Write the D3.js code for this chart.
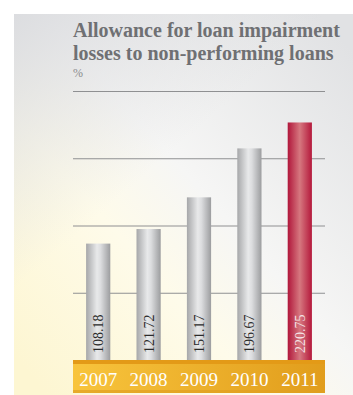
<!DOCTYPE html>
<html>
<head>
<meta charset="utf-8">
<style>
    body { margin: 0; background: #fff; }
    svg { display: block; }
    .title { font-family: "Liberation Serif", "Times New Roman", serif; font-weight: 700; font-size: 20px; fill: #6f7073; }
    .unit { font-family: "Liberation Serif", serif; font-size: 12px; fill: #8a8b8d; }
    .val { font-family: "Liberation Serif", serif; font-size: 14px; fill: #2b2b2b; }
    .year { font-family: "Liberation Serif", serif; font-size: 19px; fill: #fff; }
</style>
</head>
<body>
<svg width="353" height="395"></svg>
<script src="https://d3js.org/d3.v7.min.js"></script>
<script>
    let years = ["2007", "2008", "2009", "2010", "2011"]
    let values = [108.18, 121.72, 151.17, 196.67, 220.75]
    let gridValues = [62.5, 125, 187.5, 250]

    let svg = d3.select("svg")
    let defs = svg.append("defs")

    // background panel gradient
    let bg = defs.append("linearGradient").attr("id", "bg")
        .attr("x1", 0).attr("y1", 0.9).attr("x2", 0.9).attr("y2", 0)
    bg.append("stop").attr("offset", 0).attr("stop-color", "#fdf6d2")
    bg.append("stop").attr("offset", 0.35).attr("stop-color", "#fefbea")
    bg.append("stop").attr("offset", 0.55).attr("stop-color", "#f6f6f5")
    bg.append("stop").attr("offset", 1).attr("stop-color", "#e1e2e4")

    let topShade = defs.append("linearGradient").attr("id", "topShade")
        .attr("x1", 0).attr("y1", 0).attr("x2", 0.35).attr("y2", 0.45)
    topShade.append("stop").attr("offset", 0).attr("stop-color", "#dcdde0").attr("stop-opacity", 1)
    topShade.append("stop").attr("offset", 1).attr("stop-color", "#dcdde0").attr("stop-opacity", 0)

    let grayBar = defs.append("linearGradient").attr("id", "grayBar")
    grayBar.append("stop").attr("offset", 0).attr("stop-color", "#a6a7a9")
    grayBar.append("stop").attr("offset", 0.45).attr("stop-color", "#e8e9ea")
    grayBar.append("stop").attr("offset", 0.6).attr("stop-color", "#dcdddf")
    grayBar.append("stop").attr("offset", 1).attr("stop-color", "#9c9d9f")

    let redBar = defs.append("linearGradient").attr("id", "redBar")
    redBar.append("stop").attr("offset", 0).attr("stop-color", "#b0163a")
    redBar.append("stop").attr("offset", 0.5).attr("stop-color", "#d6777f")
    redBar.append("stop").attr("offset", 1).attr("stop-color", "#b4183b")

    let band = defs.append("linearGradient").attr("id", "band")
    band.append("stop").attr("offset", 0).attr("stop-color", "#f8c43c")
    band.append("stop").attr("offset", 1).attr("stop-color", "#e19d1c")

    svg.append("rect").attr("x", 14).attr("y", 14).attr("width", 339).attr("height", 381).attr("fill", "url(#bg)")
    svg.append("rect").attr("x", 14).attr("y", 14).attr("width", 339).attr("height", 381).attr("fill", "url(#topShade)")

    let x = d3.scaleBand().domain(years).range([73, 325]).paddingInner(0.52).paddingOuter(0.26)
    let y = d3.scaleLinear().domain([0, 250]).range([360, 91])

    // gridlines
    svg.append("g")
        .attr("transform", "translate(73,0)")
        .call(d3.axisLeft(y).tickValues(gridValues).tickSize(-252).tickFormat(""))
        .call(g => g.select(".domain").remove())
        .call(g => g.selectAll(".tick line").attr("stroke", "#8f9092").attr("stroke-width", 1.2))

    // title
    svg.append("text").attr("class", "title").attr("x", 73).attr("y", 37).text("Allowance for loan impairment")
    svg.append("text").attr("class", "title").attr("x", 73).attr("y", 60).text("losses to non-performing loans")
    svg.append("text").attr("class", "unit").attr("x", 73).attr("y", 77).text("%")

    // bars
    svg.append("g").selectAll("rect")
        .data(values)
        .join("rect")
        .attr("x", (d, i) => x(years[i]))
        .attr("width", x.bandwidth())
        .attr("y", d => y(d))
        .attr("height", d => y(0) - y(d))
        .attr("fill", (d, i) => i == values.length - 1 ? "url(#redBar)" : "url(#grayBar)")

    // value labels
    svg.append("g").selectAll("text")
        .data(values)
        .join("text")
        .attr("class", "val")
        .attr("transform", (d, i) => `translate(${x(years[i]) + x.bandwidth() / 2 + 5},353) rotate(-90)`)
        .style("fill", (d, i) => i == values.length - 1 ? "#f4e3e6" : "#2b2b2b")
        .text(d => d3.format(".2f")(d))

    // year band
    svg.append("rect").attr("x", 73).attr("y", 360).attr("width", 252).attr("height", 33).attr("fill", "url(#band)")
    svg.append("rect").attr("x", 73).attr("y", 360).attr("width", 252).attr("height", 4).attr("fill", "#e39a17")
    svg.append("rect").attr("x", 73).attr("y", 390).attr("width", 252).attr("height", 3).attr("fill", "#e0a021").attr("opacity", 0.7)

    svg.append("g").selectAll("text")
        .data(years)
        .join("text")
        .attr("class", "year")
        .attr("x", d => x(d) + x.bandwidth() / 2)
        .attr("y", 386)
        .attr("text-anchor", "middle")
        .text(d => d)
</script>
</body>
</html>
